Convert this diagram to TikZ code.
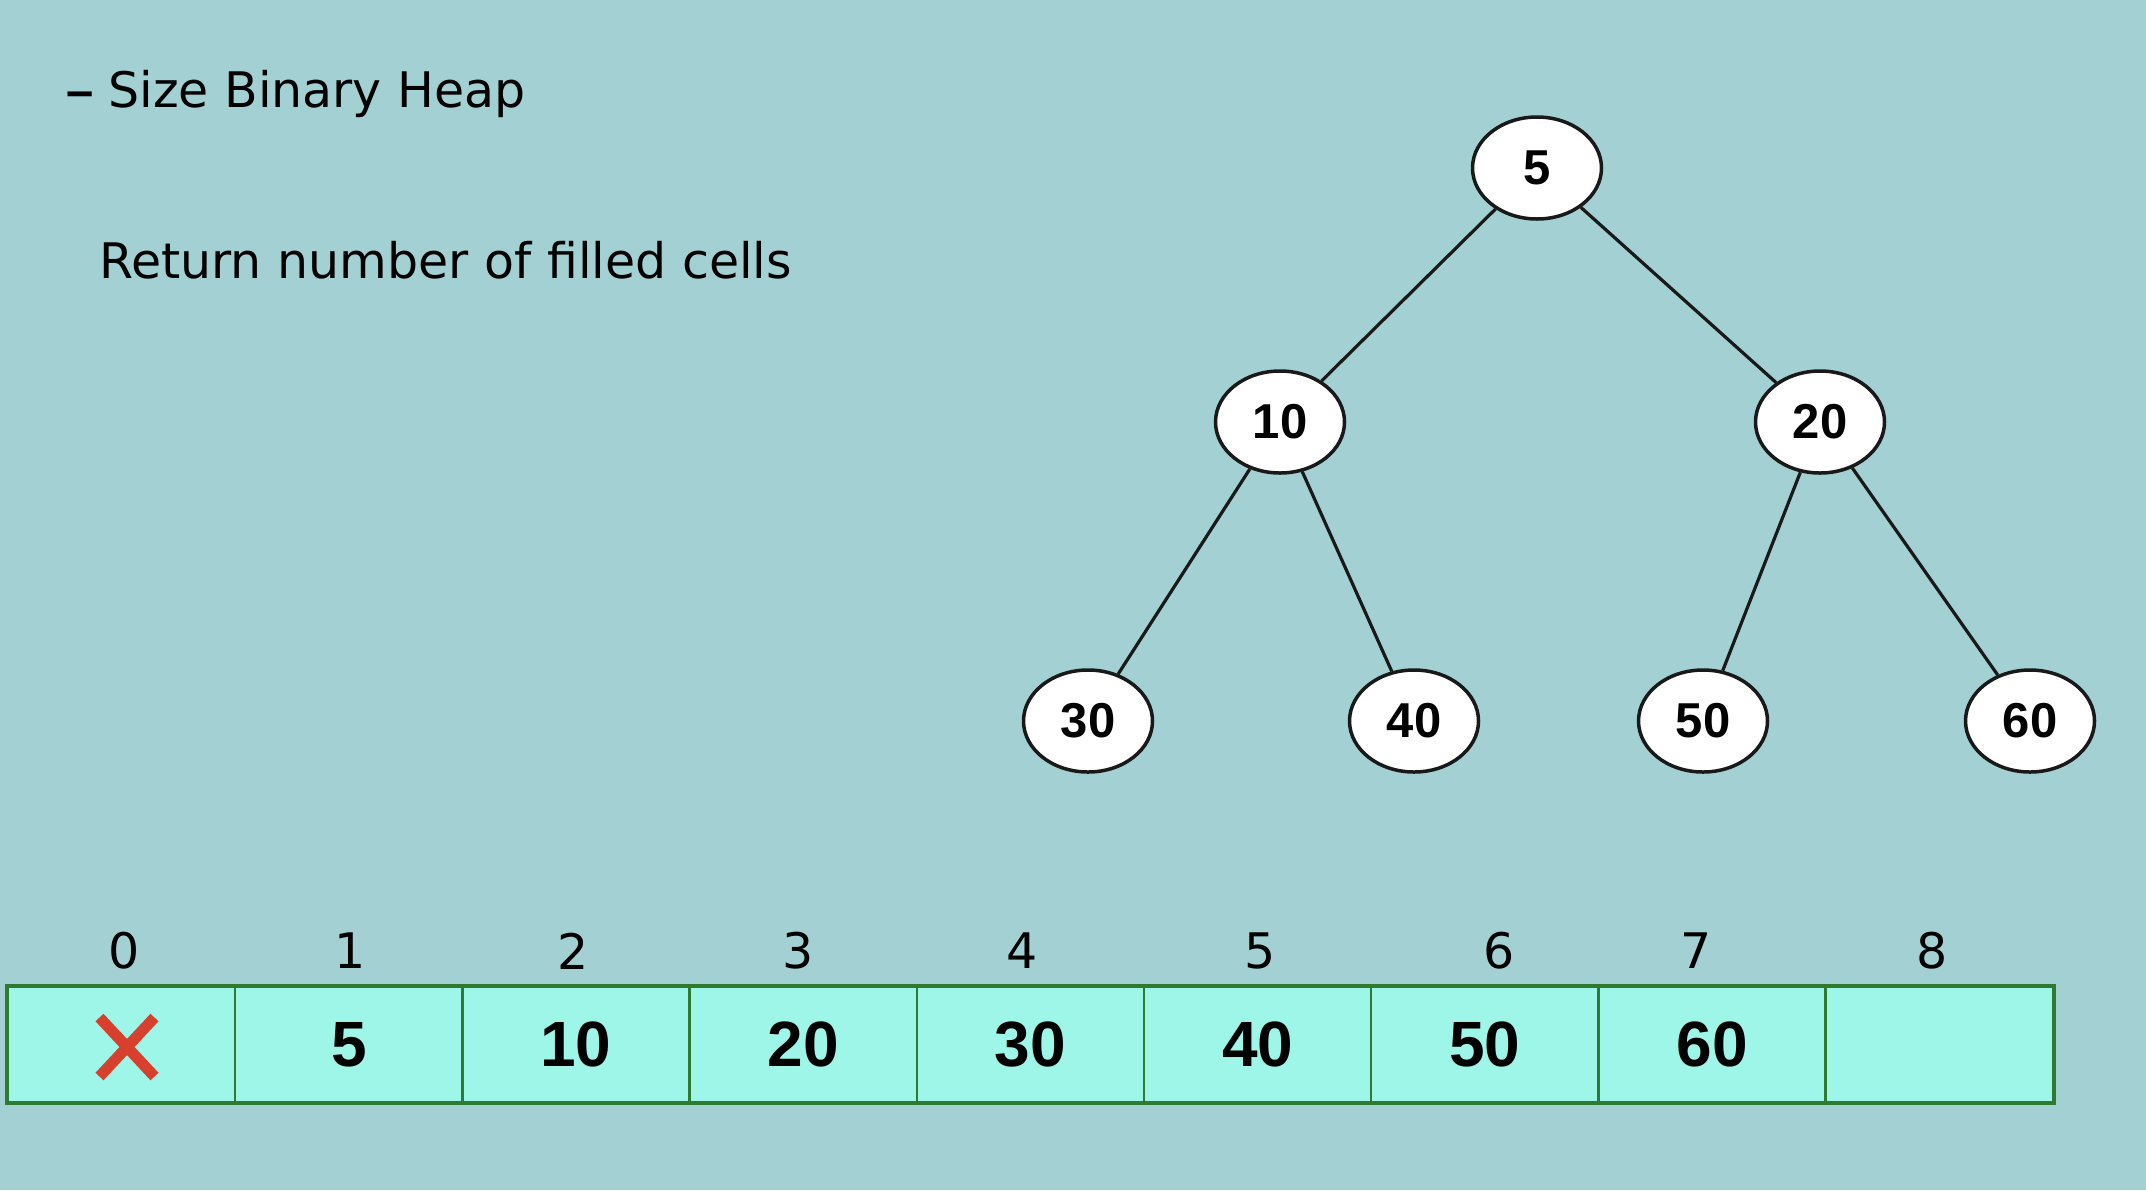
\documentclass[tikz,border=0pt]{standalone}
\usepackage{fontspec}
\setmainfont{DejaVu Sans}
\newfontfamily\numfont{Liberation Sans}
\usetikzlibrary{positioning, shapes}

\definecolor{slidebg}{RGB}{163,209,211}
\definecolor{cellfill}{RGB}{157,246,231}
\definecolor{cellline}{RGB}{46,122,46}
\definecolor{crossred}{RGB}{214,64,44}

\begin{document}
\begin{tikzpicture}[
    x=0.5pt, y=-0.5pt, on grid,
    heapnode/.style={ellipse, draw=black!90, line width=1.75pt, fill=white,
        minimum width=64.5pt, minimum height=51pt, inner sep=0pt,
        font=\numfont\bfseries\fontsize{24.5}{27}\selectfont},
    edge/.style={draw=black!90, line width=1.6pt},
    cell/.style={rectangle, draw=cellline, line width=1.25pt, fill=cellfill,
        minimum width=113.6pt, minimum height=57.5pt, inner sep=0pt,
        font=\numfont\bfseries\fontsize{32}{36}\selectfont},
    index/.style={font=\fontsize{24.5}{28}\selectfont, inner sep=0pt},
    slidetext/.style={font=\fontsize{24.5}{28}\selectfont, anchor=base west, inner sep=0pt}
]

% Slide background
\fill[slidebg] (0,0) rectangle (2146,1190);
\useasboundingbox (0,0) rectangle (2146,1190);

% Title and note
\node[slidetext] (title) at (66,107) {{\numfont\bfseries –}\hspace{0.3em}Size Binary Heap};
\node[slidetext] (note) at (99,278) {Return number of filled cells};

% Root node
\node[heapnode] (root) at (1537,168) {5};

% Second level
\node[heapnode, below left=127pt and 128.5pt of root] (n10) {10};
\node[heapnode, below right=127pt and 141.5pt of root] (n20) {20};

% Leaves
\node[heapnode, below left=149.5pt and 96pt of n10] (n30) {30};
\node[heapnode, below right=149.5pt and 67pt of n10] (n40) {40};
\node[heapnode, below left=149.5pt and 58.5pt of n20] (n50) {50};
\node[heapnode, below right=149.5pt and 105pt of n20] (n60) {60};

% Edges
\draw[edge] (root) -- (n10);
\draw[edge] (root) -- (n20);
\draw[edge] (n10) -- (n30);
\draw[edge] (n10) -- (n40);
\draw[edge] (n20) -- (n50);
\draw[edge] (n20) -- (n60);

% Array cells
\node[cell] (c0) at (121.6,1044.5) {};
\foreach \v [count=\i] in {5,10,20,30,40,50,60}
    \node[cell] (c\i) at ({121.6+227.2*\i},1044.5) {\v};
\node[cell] (c8) at ({121.6+227.2*8},1044.5) {};
\draw[cellline, line width=2pt] (c0.north west) rectangle (c8.south east);

% Unused slot 0
\node[cross out, draw=crossred, line width=5.5pt, minimum width=22pt,
    minimum height=24pt, inner sep=0pt] (nil) at (127,1047) {};

% Indices
\foreach \i/\x in {0/124.5, 1/350, 2/573, 3/798, 4/1022, 5/1260, 6/1499, 7/1696, 8/1932}
    \node[index] (idx\i) at (\x,951) {\i};

\end{tikzpicture}
\end{document}
